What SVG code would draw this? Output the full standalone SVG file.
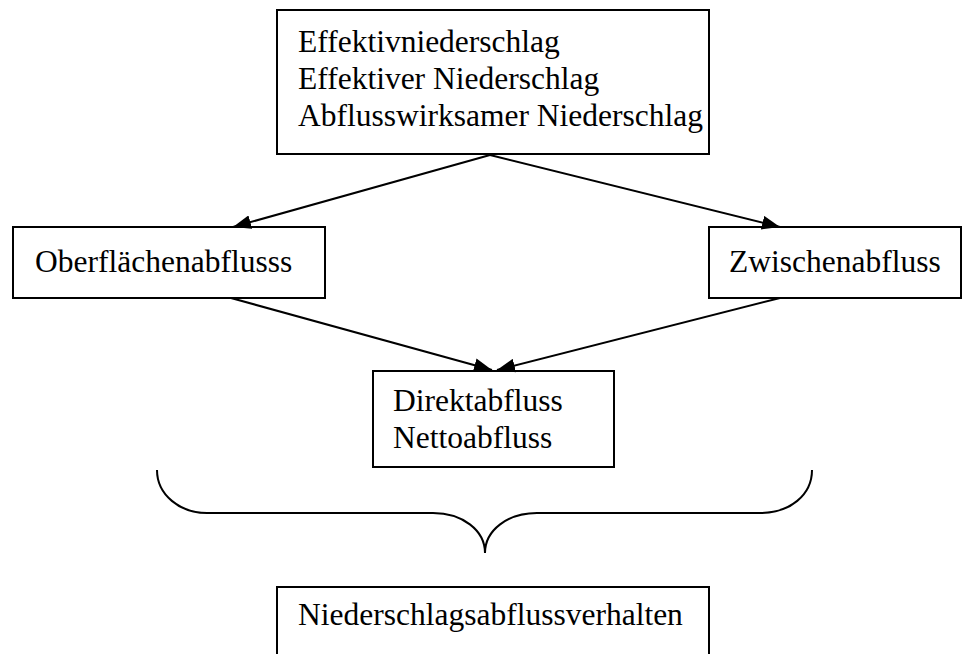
<svg xmlns="http://www.w3.org/2000/svg" width="962" height="654" viewBox="0 0 962 654">
<style>
  .box { fill: #fff; stroke: #000; stroke-width: 2; }
  .lbl { font-family: "Liberation Serif", "Times New Roman", serif; font-size: 31.5px; fill: #000; }
  .con { stroke: #000; stroke-width: 2; fill: none; }
</style>
<defs>
  <marker id="arr" markerUnits="userSpaceOnUse" markerWidth="20" markerHeight="14" refX="18" refY="7" orient="auto">
    <path d="M0,0 L18,7 L0,14 Z" fill="#000"/>
  </marker>
</defs>
<rect width="962" height="654" fill="#fff"/>
<g id="n-effektiv">
  <rect class="box" x="277" y="10" width="432" height="144"/>
  <text class="lbl" x="298" y="52">Effektivniederschlag</text>
  <text class="lbl" x="298" y="89">Effektiver Niederschlag</text>
  <text class="lbl" x="298" y="126">Abflusswirksamer Niederschlag</text>
</g>
<g id="n-oberflaeche">
  <rect class="box" x="13" y="227" width="312" height="71"/>
  <text class="lbl" x="35" y="272">Oberflächenabflusss</text>
</g>
<g id="n-zwischen">
  <rect class="box" x="709" y="227" width="252" height="71"/>
  <text class="lbl" x="729" y="272">Zwischenabfluss</text>
</g>
<g id="n-direkt">
  <rect class="box" x="373" y="371" width="241" height="96"/>
  <text class="lbl" x="393" y="411">Direktabfluss</text>
  <text class="lbl" x="393" y="448">Nettoabfluss</text>
</g>
<g id="n-verhalten">
  <rect class="box" x="277" y="587" width="432" height="80"/>
  <text class="lbl" x="298" y="625">Niederschlagsabflussverhalten</text>
</g>
<g id="connectors">
  <line class="con" x1="490" y1="155" x2="233" y2="227" marker-end="url(#arr)"/>
  <line class="con" x1="490" y1="155" x2="780" y2="227" marker-end="url(#arr)"/>
  <line class="con" x1="231" y1="298" x2="492" y2="370" marker-end="url(#arr)"/>
  <line class="con" x1="780" y1="298" x2="497" y2="370" marker-end="url(#arr)"/>
  <path class="con" d="M157,470 C157,495 180,513 207,513 L433,513 C462,513 485,530 485,553 C485,530 508,513 537,513 L760,513 C790,513 812,495 812,470"/>
</g>
</svg>
